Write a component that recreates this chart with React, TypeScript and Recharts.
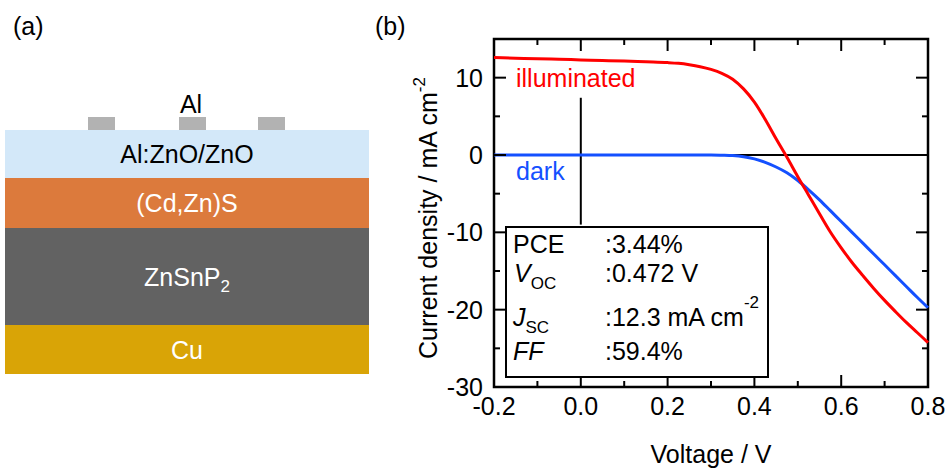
import React from 'react';
import { LineChart, Line, XAxis, YAxis, ReferenceLine, ReferenceArea } from 'recharts';

// J-V data (V in volts, J in mA cm^-2)
const voltage = [
  -0.2, -0.15, -0.1, -0.05, 0, 0.05, 0.1, 0.15, 0.2, 0.225, 0.25, 0.275, 0.3, 0.325, 0.35, 0.375,
  0.4, 0.425, 0.45, 0.475, 0.5, 0.525, 0.55, 0.575, 0.6, 0.625, 0.65, 0.675, 0.7, 0.725, 0.75, 0.775, 0.8,
];
const illuminated = [
  12.6, 12.52, 12.45, 12.38, 12.3, 12.22, 12.15, 12.05, 11.95, 11.85, 11.67, 11.42, 11.07, 10.57, 9.8, 8.55,
  6.85, 4.6, 2.1, -0.3, -2.8, -5.2, -7.6, -9.95, -12.0, -13.9, -15.6, -17.25, -18.8, -20.25, -21.65, -22.95, -24.25,
];
const dark = [
  0, 0, 0, 0, 0, 0, 0, 0, 0, 0, 0, 0, 0, -0.03, -0.08, -0.22,
  -0.5, -0.95, -1.55, -2.3, -3.3, -4.5, -5.8, -7.2, -8.6, -10.0, -11.4, -12.8, -14.2, -15.6, -17.0, -18.4, -19.75,
];

const xTicks = [-0.2, -0.1, 0, 0.1, 0.2, 0.3, 0.4, 0.5, 0.6, 0.7, 0.8];
const xMajor = [-0.2, 0, 0.2, 0.4, 0.6, 0.8];
const yTicks = [-30, -25, -20, -15, -10, -5, 0, 5, 10];
const yMajor = [-30, -20, -10, 0, 10];

// device stack for panel (a)
const layers = [
  { name: 'Al:ZnO/ZnO', color: '#d3e8f9', text: '#000' },
  { name: '(Cd,Zn)S', color: '#dc7a3c', text: '#fff' },
  { name: 'ZnSnP', color: '#626262', text: '#fff', sub: '2' },
  { name: 'Cu', color: '#d9a406', text: '#fff' },
];
const layerHeights = [48, 50, 97, 49];

const data = voltage.map((v, i) => ({ v, illuminated: illuminated[i], dark: dark[i] }));

const W = 949;
const H = 468;
const PLOT = { left: 494, right: 928, top: 39, bottom: 387 };
const FONT = 'Arial, "Liberation Sans", sans-serif';
const FS = 25;

const isIn = (list: number[], v: number) => list.some(t => Math.abs(t - v) < 1e-6);

// inward ticks on bottom + top
const XTick = (props: any) => {
  const { x, payload } = props;
  const major = isIn(xMajor, payload.value);
  const len = major ? 12 : 6;
  return (
    <g>
      <line x1={x} x2={x} y1={PLOT.bottom} y2={PLOT.bottom - len} stroke="#000" strokeWidth={2} />
      <line x1={x} x2={x} y1={PLOT.top} y2={PLOT.top + len} stroke="#000" strokeWidth={2} />
      {major && (
        <text x={x} y={PLOT.bottom + 28} textAnchor="middle" fontSize={FS} fontFamily={FONT} fill="#000">
          {payload.value.toFixed(1)}
        </text>
      )}
    </g>
  );
};

// inward ticks on left + right
const YTick = (props: any) => {
  const { y, payload } = props;
  const major = isIn(yMajor, payload.value);
  const len = major ? 12 : 6;
  return (
    <g>
      <line x1={PLOT.left} x2={PLOT.left + len} y1={y} y2={y} stroke="#000" strokeWidth={2} />
      <line x1={PLOT.right} x2={PLOT.right - len} y1={y} y2={y} stroke="#000" strokeWidth={2} />
      {major && (
        <text x={PLOT.left - 11} y={y + 9} textAnchor="end" fontSize={FS} fontFamily={FONT} fill="#000">
          {String(payload.value)}
        </text>
      )}
    </g>
  );
};

const PanelA = () => {
  let top = 130;
  return (
    <g fontFamily={FONT} fontSize={FS}>
      <text x={13} y={35} fill="#000">(a)</text>
      {[88, 179, 258].map(x => (
        <rect key={x} x={x} y={117} width={27} height={13} fill="#b2b2b2" />
      ))}
      <text x={191} y={113} textAnchor="middle" fill="#000">Al</text>
      {layers.map((l, i) => {
        const y0 = top;
        const h = layerHeights[i];
        top += h;
        return (
          <g key={l.name}>
            <rect x={5} y={y0} width={364} height={h} fill={l.color} />
            <text x={187} y={y0 + h / 2 + 9} textAnchor="middle" fill={l.text}>
              {l.name}
              {l.sub && <tspan dy={6} fontSize={17}>{l.sub}</tspan>}
            </text>
          </g>
        );
      })}
    </g>
  );
};

const Annotations = () => (
  <g fontFamily={FONT} fontSize={FS} fill="#000">
    <text x={375} y={35}>(b)</text>
    <text transform="translate(437, 218) rotate(-90)" textAnchor="middle">
      Current density / mA cm<tspan dy={-12} fontSize={17}>-2</tspan>
    </text>
    <text x={(PLOT.left + PLOT.right) / 2} y={463} textAnchor="middle">Voltage / V</text>
    <text x={516} y={87} fill="#ff0000">illuminated</text>
    <text x={516} y={180} fill="#1450ff">dark</text>
    {/* parameter box */}
    <rect x={506} y={227} width={262} height={150} fill="#fff" stroke="#000" strokeWidth={2} />
    <text x={513} y={253}>PCE</text>
    <text x={605} y={253}>:3.44%</text>
    <text x={514} y={282}>
      <tspan fontStyle="italic">V</tspan>
      <tspan dy={7} fontSize={17}>OC</tspan>
    </text>
    <text x={605} y={282}>:0.472 V</text>
    <text x={513} y={326}>
      <tspan fontStyle="italic">J</tspan>
      <tspan dy={7} fontSize={17}>SC</tspan>
    </text>
    <text x={605} y={326}>
      :12.3 mA cm<tspan dy={-18} fontSize={17}>-2</tspan>
    </text>
    <text x={513} y={360} fontStyle="italic">FF</text>
    <text x={605} y={360}>:59.4%</text>
  </g>
);

export default function App() {
  return (
    <div style={{ position: 'absolute', left: 0, top: 0, width: W, height: H, background: '#fff' }}>
      <svg width={W} height={H} style={{ position: 'absolute', left: 0, top: 0 }}>
        <PanelA />
      </svg>
      <div style={{ position: 'absolute', left: 0, top: 0 }}>
        <LineChart
          width={W}
          height={H}
          data={data}
          margin={{ top: PLOT.top, right: W - PLOT.right, bottom: H - PLOT.bottom - 30, left: PLOT.left - 60 }}
        >
          <XAxis
            dataKey="v"
            type="number"
            domain={[-0.2, 0.8]}
            ticks={xTicks}
            interval={0}
            tick={XTick}
            tickLine={false}
            axisLine={false}
            height={30}
          />
          <YAxis
            type="number"
            domain={[-30, 15]}
            ticks={yTicks}
            interval={0}
            tick={YTick}
            tickLine={false}
            axisLine={false}
            width={60}
          />
          <ReferenceLine y={0} stroke="#000" strokeWidth={2} />
          <ReferenceLine segment={[{ x: 0, y: 7.4 }, { x: 0, y: -9 }]} stroke="#000" strokeWidth={2} />
          <Line dataKey="dark" type="monotone" stroke="#1450ff" strokeWidth={3} dot={false} isAnimationActive={false} />
          <Line dataKey="illuminated" type="monotone" stroke="#ff0000" strokeWidth={3} dot={false} isAnimationActive={false} />
          <ReferenceArea x1={-0.2} x2={0.8} y1={-30} y2={15} fill="none" stroke="#000" strokeWidth={2.5} />
        </LineChart>
      </div>
      <svg width={W} height={H} style={{ position: 'absolute', left: 0, top: 0, pointerEvents: 'none' }}>
        <Annotations />
      </svg>
    </div>
  );
}
